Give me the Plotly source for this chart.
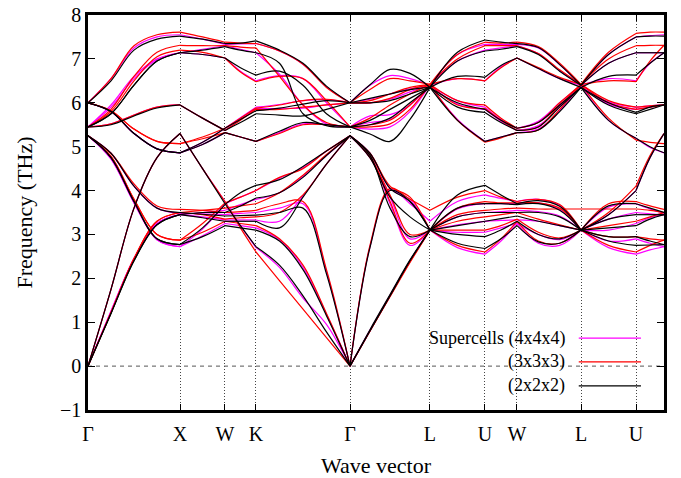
import plotly.graph_objects as go

# k-path coordinates (path length units) and high-symmetry points
k_path = [0, 0.25, 0.5, 0.75, 1.0, 1.245, 1.489, 1.657, 1.826, 2.081, 2.337, 2.592, 2.848,
          3.065, 3.283, 3.5, 3.717, 4.016, 4.315, 4.489, 4.663, 4.895, 5.127, 5.359,
          5.658, 5.957, 6.109, 6.261]
segment_breaks = [0, 4, 6, 8, 12, 16, 18, 20, 23, 25, 27]
tick_positions = [0, 1.0, 1.489, 1.826, 2.848, 3.717, 4.315, 4.663, 5.359, 5.957]
tick_labels = ["Γ", "X", "W", "K", "Γ", "L", "U", "W", "L", "U"]

# ---- 2x2x2 supercell (black) ----
lower_2x2x2 = [
    [0,1.2,2.4,3.22,3.45, 3.5,3.5, 3.65,3.83, 3.95,4.3,4.8,5.25, 4.8,3.6,2.95,3.1, 3.4,3.5, 3.5,3.5, 3.5,3.4,3.1, 3.35,3.45, 3.45,3.45],
    [0,1.2,2.4,3.22,3.45, 3.38,3.3, 3.3,3.3, 3.15,3.85,4.6,5.25, 4.75,3.85,3.4,3.1, 3.2,3.3, 3.36,3.42, 3.3,3.2,3.1, 3.15,3.2, 3.35,3.45],
    [0,1.75,3.6,4.75,5.3, 4.5,3.7, 3.2,2.72, 2.3,1.6,0.78,0, 0.83,1.63,2.42,3.1, 2.8,2.68, 2.9,3.2, 2.83,2.8,3.1, 2.85,2.75, 2.76,2.77],
    [5.25,4.75,3.75,2.9,2.77, 3.15,3.68, 3.95,4.12, 4.25,4.55,4.9,5.25, 4.85,4.05,3.75,3.1, 3.6,3.7, 3.7,3.68, 3.7,3.55,3.1, 3.65,3.7, 3.6,3.5],
    [5.25,4.75,3.75,2.9,2.77, 2.95,3.2, 3.15,3.1, 2.85,2.2,1.15,0, 0.8,1.6,2.4,3.1, 3.0,2.95, 3.1,3.3, 3.0,2.9,3.1, 2.95,2.95, 2.85,2.77],
    [5.25,4.85,4.1,3.6,3.5, 3.46,3.42, 3.43,3.44, 3.5,3.6,2.1,0, 2.7,4.0,3.75,3.1, 3.9,4.12, 3.9,3.7, 3.77,3.64,3.1, 3.45,4.0, 4.75,5.3],
]
upper_2x2x2 = [
    [5.45,5.5,5.7,5.88,5.95, 5.65,5.37, 5.55,5.75, 5.72,5.7,5.85,6.0, 6.0,6.05,6.2,6.35, 6.6,6.58, 6.85,7.02, 6.78,6.55,6.35, 6.6,6.63, 6.9,7.14],
    [5.45,5.75,6.4,6.95,7.14, 7.2,7.28, 7.2,7.14, 6.9,5.75,5.48,5.45, 5.6,5.85,6.1,6.35, 6.0,5.85, 5.6,5.42, 5.55,5.95,6.35, 6.0,5.78, 5.9,5.95],
    [5.45,5.75,6.4,6.95,7.14, 7.1,7.02, 6.8,6.63, 6.72,6.4,5.75,5.45, 5.5,5.65,6.0,6.35, 5.9,5.78, 5.55,5.37, 5.45,5.9,6.35, 5.95,5.75, 5.85,5.95],
    [6.0,6.5,7.2,7.45,7.52, 7.45,7.35, 7.36,7.41, 7.2,6.9,6.38,6.0, 6.41,6.76,6.67,6.35, 7.15,7.43, 7.38,7.35, 7.26,6.87,6.4, 7.1,7.5, 7.52,7.52],
    [6.0,5.8,5.3,4.95,4.86, 5.1,5.42, 5.62,5.82, 5.88,5.97,6.05,6.0, 6.1,6.2,6.3,6.35, 6.95,7.18, 7.22,7.28, 7.1,6.72,6.4, 6.9,7.14, 7.14,7.14],
    [6.0,5.8,5.3,4.95,4.86, 5.05,5.32, 5.22,5.12, 5.35,5.55,5.5,5.45, 5.29,5.12,5.62,6.35, 5.6,5.12, 5.22,5.32, 5.38,5.8,6.35, 5.6,5.19, 5.0,4.86],
]

# ---- 3x3x3 supercell (red) ----
lower_3x3x3 = [
    [0,1.22,2.45,3.3,3.5, 3.55,3.6, 3.65,3.7, 3.95,4.35,4.82,5.25, 4.8,3.75,2.8,3.1, 3.45,3.55, 3.58,3.6, 3.58,3.58,3.58, 3.58,3.58, 3.55,3.5],
    [0,1.22,2.45,3.3,3.5, 3.45,3.35, 3.38,3.4, 3.5,3.9,4.6,5.25, 4.75,3.9,3.0,3.1, 3.3,3.4, 3.45,3.5, 3.35,3.22,3.1, 3.2,3.3, 3.4,3.5],
    [0,1.75,3.6,4.75,5.3, 4.5,3.75, 3.15,2.6, 1.95,1.3,0.65,0, 0.8,1.6,2.38,3.1, 2.75,2.6, 2.9,3.3, 2.85,2.8,3.1, 2.75,2.6, 2.75,2.87],
    [5.25,4.78,3.8,3.0,2.87, 3.25,3.72, 3.85,4.0, 4.3,4.5,4.9,5.25, 4.85,4.1,3.85,3.1, 3.6,3.75, 3.72,3.72, 3.72,3.6,3.1, 3.7,3.75, 3.65,3.57],
    [5.25,4.78,3.8,3.0,2.87, 3.05,3.3, 3.25,3.2, 2.9,2.3,1.2,0, 0.8,1.58,2.36,3.1, 3.1,3.1, 3.2,3.35, 3.05,2.92,3.1, 2.95,2.95, 2.9,2.87],
    [5.25,4.85,4.15,3.65,3.57, 3.55,3.5, 3.52,3.55, 3.7,3.75,2.2,0, 2.75,4.05,3.8,3.55, 3.85,4.0, 3.85,3.75, 3.8,3.68,3.1, 3.5,4.1, 4.8,5.3],
]
upper_3x3x3 = [
    [5.45,5.52,5.72,5.9,5.95, 5.65,5.37, 5.6,5.85, 5.85,5.9,5.95,6.0, 6.0,6.1,6.3,6.42, 6.55,6.5, 6.8,7.02, 6.8,6.58,6.42, 6.5,6.48, 6.95,7.31],
    [5.45,5.85,6.6,7.15,7.31, 7.3,7.3, 7.27,7.25, 6.6,5.95,5.55,5.45, 5.65,5.95,6.2,6.42, 6.05,5.95, 5.65,5.42, 5.55,6.0,6.42, 6.05,5.9, 5.93,5.95],
    [5.45,5.8,6.5,7.05,7.2, 7.15,7.02, 6.7,6.48, 6.6,6.55,6.05,5.45, 5.5,5.6,5.95,6.42, 5.95,5.87, 5.6,5.37, 5.45,5.95,6.42, 6.0,5.85, 5.9,5.95],
    [6.0,6.55,7.3,7.55,7.61, 7.5,7.38, 7.36,7.35, 7.18,6.88,6.35,6.0, 6.3,6.55,6.5,6.42, 7.1,7.38, 7.36,7.38, 7.28,6.9,6.42, 7.15,7.58, 7.61,7.61],
    [6.0,5.82,5.4,5.12,5.07, 5.22,5.42, 5.65,5.88, 5.95,6.05,6.08,6.0, 6.05,6.2,6.35,6.42, 7.0,7.3, 7.3,7.3, 7.12,6.75,6.42, 7.0,7.3, 7.31,7.31],
    [6.0,5.82,5.4,5.12,5.07, 5.18,5.32, 5.22,5.12, 5.3,5.5,5.5,5.45, 5.45,5.52,5.85,6.42, 5.6,5.1, 5.2,5.32, 5.38,5.85,6.42, 5.65,5.15, 5.1,5.07],
]

# ---- 4x4x4 supercell (magenta) ----
lower_4x4x4 = [
    [0,1.25,2.45,3.25,3.45, 3.5,3.55, 3.68,3.8, 3.95,4.32,4.8,5.25, 4.8,3.7,2.75,3.1, 3.4,3.5, 3.52,3.55, 3.52,3.42,3.1, 3.35,3.5, 3.47,3.45],
    [0,1.25,2.45,3.25,3.45, 3.4,3.33, 3.33,3.33, 3.3,3.88,4.6,5.25, 4.75,3.85,2.9,3.1, 3.22,3.3, 3.32,3.33, 3.3,3.2,3.1, 3.1,3.25, 3.38,3.45],
    [0,1.75,3.6,4.75,5.3, 4.5,3.75, 3.2,2.7, 2.25,1.55,0.95,0, 0.82,1.62,2.4,3.1, 2.7,2.55, 2.85,3.25, 2.8,2.75,3.1, 2.7,2.55, 2.65,2.72],
    [5.25,4.72,3.72,2.88,2.72, 3.12,3.7, 3.85,4.0, 4.28,4.52,4.9,5.25, 4.85,4.05,3.8,3.1, 3.58,3.7, 3.7,3.7, 3.72,3.57,3.1, 3.62,3.7, 3.58,3.48],
    [5.25,4.72,3.72,2.88,2.72, 2.97,3.25, 3.2,3.15, 2.88,2.25,1.18,0, 0.8,1.6,2.4,3.1, 3.05,3.05, 3.15,3.25, 3.0,2.88,3.1, 2.85,2.9, 2.8,2.72],
    [5.25,4.85,4.1,3.6,3.48, 3.47,3.45, 3.48,3.5, 3.6,3.7,2.15,0, 2.72,4.02,3.7,3.3, 3.75,3.9, 3.82,3.75, 3.8,3.66,3.1, 3.45,4.0, 4.75,5.3],
]
upper_4x4x4 = [
    [5.45,5.52,5.72,5.9,5.95, 5.65,5.37, 5.62,5.87, 5.87,5.88,5.95,6.0, 6.0,6.08,6.25,6.4, 6.55,6.5, 6.82,7.02, 6.78,6.55,6.4, 6.55,6.5, 6.9,7.14],
    [5.45,5.95,6.6,7.0,7.14, 7.22,7.3, 7.22,7.14, 6.65,5.95,5.52,5.45, 5.7,5.73,5.95,6.4, 6.05,5.9, 5.62,5.42, 5.58,6.0,6.4, 6.02,5.9, 5.93,5.95],
    [5.45,5.9,6.55,6.98,7.14, 7.1,7.02, 6.72,6.5, 6.62,6.55,6.0,5.45, 5.55,5.62,5.95,6.4, 5.97,5.85, 5.58,5.37, 5.48,5.92,6.4, 5.97,5.85, 5.9,5.95],
    [6.0,6.55,7.25,7.5,7.55, 7.45,7.33, 7.34,7.35, 7.18,6.88,6.36,6.0, 6.4,6.62,6.55,6.4, 7.1,7.33, 7.33,7.33, 7.25,6.87,6.4, 7.1,7.5, 7.53,7.55],
    [6.0,5.8,5.3,4.95,4.86, 5.1,5.42, 5.66,5.9, 5.96,6.05,6.07,6.0, 6.08,6.2,6.32,6.4, 6.95,7.2, 7.25,7.3, 7.12,6.73,6.4, 6.9,7.14, 7.14,7.14],
    [6.0,5.8,5.3,4.95,4.86, 5.05,5.32, 5.22,5.12, 5.32,5.52,5.5,5.45, 5.4,5.45,5.8,6.4, 5.62,5.12, 5.22,5.32, 5.4,5.82,6.4, 5.6,5.19, 4.98,4.86],
]

series = [
    ("Supercells (4x4x4)", "#ff00ff", lower_4x4x4 + upper_4x4x4),
    ("(3x3x3)", "#ff0000", lower_3x3x3 + upper_3x3x3),
    ("(2x2x2)", "#000000", lower_2x2x2 + upper_2x2x2),
]

FONT = "Liberation Serif, Times New Roman, serif"


def segmented(vals):
    assert len(vals) == len(k_path), len(vals)
    xs, ys = [], []
    for a, b in zip(segment_breaks[:-1], segment_breaks[1:]):
        xs += k_path[a:b + 1] + [None]
        ys += vals[a:b + 1] + [None]
    return xs, ys


fig = go.Figure()
for name, color, bands in series:
    for band in bands:
        xs, ys = segmented(band)
        fig.add_trace(go.Scatter(x=xs, y=ys, mode="lines", showlegend=False,
                                 line=dict(color=color, width=1.2, shape="spline", smoothing=1.0),
                                 connectgaps=False, hoverinfo="skip"))

x_end = k_path[-1]

shapes = [
    # zero-frequency dashed line
    dict(type="line", xref="x", yref="y", x0=0, x1=x_end, y0=0, y1=0,
         line=dict(color="#555555", width=1, dash="4px,4px"), layer="between"),
    # opaque key box
    dict(type="rect", xref="paper", yref="paper", x0=0.531, x1=0.996, y0=0.004, y1=0.223,
         fillcolor="white", line=dict(width=0), layer="between"),
]
annotations = []
rows_y = [0.182, 0.122, 0.061]
for (name, color, _), yy in zip(series, rows_y):
    shapes.append(dict(type="line", xref="paper", yref="paper", x0=0.852, x1=0.960, y0=yy, y1=yy,
                       line=dict(color=color, width=1.2), layer="above"))
    annotations.append(dict(xref="paper", yref="paper", x=0.832, y=yy, text=name, showarrow=False,
                            xanchor="right", yanchor="middle", font=dict(family=FONT, size=18, color="black")))

fig.update_layout(
    width=681, height=478,
    margin=dict(l=88, r=17, t=15, b=68, autoexpand=False),
    paper_bgcolor="white", plot_bgcolor="white",
    font=dict(family=FONT, size=18, color="black"),
    shapes=shapes, annotations=annotations,
    showlegend=False,
)
fig.update_xaxes(
    range=[0, x_end], tickmode="array", tickvals=tick_positions, ticktext=tick_labels,
    showgrid=True, gridcolor="#444444", gridwidth=1, griddash="1px,2px",
    showline=True, linecolor="black", linewidth=2.5, mirror="ticks",
    ticks="inside", ticklen=6, tickcolor="black", tickwidth=1,
    zeroline=False, ticklabelstandoff=4, automargin=False,
    tickfont=dict(family=FONT, size=20),
    title=dict(text="Wave vector", font=dict(family=FONT, size=22), standoff=18),
)
fig.update_yaxes(
    range=[-1, 8], tickmode="array", tickvals=list(range(-1, 9)),
    showgrid=False, zeroline=False,
    showline=True, linecolor="black", linewidth=2.5, mirror="ticks",
    ticks="inside", ticklen=7, tickcolor="black", tickwidth=1,
    ticklabelstandoff=0, automargin=False,
    tickfont=dict(family=FONT, size=20),
    title=dict(text="Frequency (THz)", font=dict(family=FONT, size=22), standoff=22),
)

fig.write_html("out.html", config={"displayModeBar": False})

# remove the browser's default page margin so the figure sits at the window's origin
with open("out.html", "r", encoding="utf-8") as fh:
    page = fh.read()
page = page.replace("<head>", "<head><style>html,body{margin:0;padding:0;}</style>", 1)
with open("out.html", "w", encoding="utf-8") as fh:
    fh.write(page)
